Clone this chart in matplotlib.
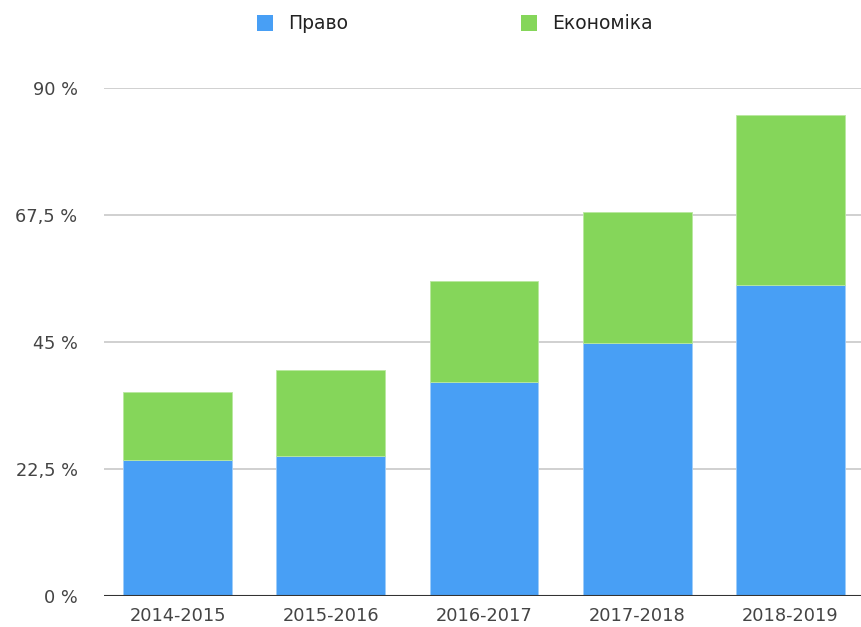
import matplotlib
matplotlib.use("Agg")
import matplotlib.pyplot as plt
from matplotlib.patches import Patch
import numpy as np

categories = ["2014-2015", "2015-2016", "2016-2017", "2017-2018", "2018-2019"]
pravo = [24.1, 24.8, 38.0, 44.9, 55.1]
ekonomika = [12.0, 15.3, 17.8, 23.1, 30.1]
yticks = [0, 22.5, 45, 67.5, 90]
ytick_labels = ["0 %", "22,5 %", "45 %", "67,5 %", "90 %"]
series_names = ["Право", "Економіка"]

blue = "#489ff5"
green = "#85d65a"

plt.rcParams['font.family'] = ['DejaVu Sans']

fig = plt.figure(figsize=(8.61, 6.27), dpi=100)
ax = fig.add_axes([0.1208, 0.0494, 0.8792, 0.8102])

x = np.arange(len(categories))
w = 0.71
ax.bar(x, pravo, width=w, color=blue, edgecolor="#9fcdfa", linewidth=0.6, zorder=3)
ax.bar(x, ekonomika, bottom=pravo, width=w, color=green, edgecolor="#b9e8a0", linewidth=0.6, zorder=3)

ax.set_xlim(-0.48, 4.46)
ax.set_ylim(0, 90)
ax.set_yticks(yticks)
ax.set_yticklabels(ytick_labels)
ax.set_xticks(x)
ax.set_xticklabels(categories)
ax.tick_params(axis='both', length=0, labelsize=12.8, labelcolor="#444444")
ax.tick_params(axis='y', pad=19)
ax.tick_params(axis='x', pad=8)
for s in ax.spines.values():
    s.set_visible(False)
ax.yaxis.grid(True, color="#c8c8c8", linewidth=1.2, zorder=0)
ax.set_axisbelow(True)
ax.axhline(0, color="#333333", linewidth=1.5, zorder=4)

handles = [Patch(facecolor=blue, edgecolor="none"), Patch(facecolor=green, edgecolor="none")]
fig.legend(handles, series_names, loc="center", bbox_to_anchor=(0.528, 0.962), ncol=2,
           frameon=False, fontsize=13.5, handlelength=0.88, handleheight=0.88,
           handletextpad=0.8, columnspacing=9.2, labelcolor="#222222",
           borderpad=0.2)

fig.savefig("out.png", dpi=100)
